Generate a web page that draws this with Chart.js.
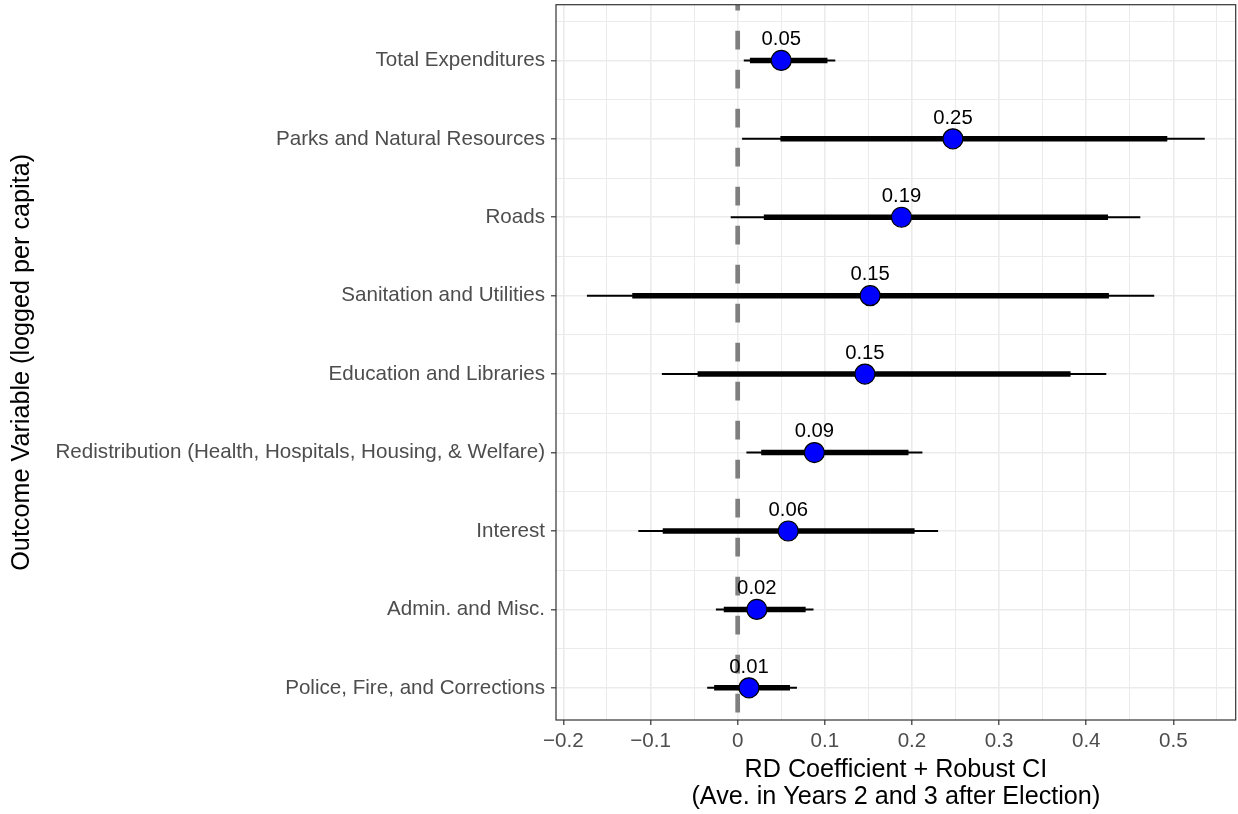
<!DOCTYPE html>
<html>
<head>
<meta charset="utf-8">
<script src="https://cdn.jsdelivr.net/npm/chart.js@4.4.1/dist/chart.umd.min.js"></script>
<style>
html,body{margin:0;padding:0;background:#ffffff;}
#wrap{width:1238px;height:814px;position:relative;}
</style>
</head>
<body>
<div id="wrap"><canvas id="c"></canvas></div>
<script>
// ---- data (top to bottom) ----
const categories = [
  "Total Expenditures",
  "Parks and Natural Resources",
  "Roads",
  "Sanitation and Utilities",
  "Education and Libraries",
  "Redistribution (Health, Hospitals, Housing, & Welfare)",
  "Interest",
  "Admin. and Misc.",
  "Police, Fire, and Corrections"
];
const estimates   = [0.050, 0.247, 0.188, 0.152, 0.146, 0.088, 0.058, 0.022, 0.013];
const ciOuterLow  = [0.007, 0.005, -0.008, -0.173, -0.087, 0.010, -0.114, -0.025, -0.035];
const ciOuterHigh = [0.112, 0.536, 0.462, 0.478, 0.423, 0.212, 0.230, 0.087, 0.068];
const ciInnerLow  = [0.014, 0.049, 0.030, -0.121, -0.046, 0.027, -0.086, -0.016, -0.027];
const ciInnerHigh = [0.103, 0.493, 0.425, 0.426, 0.382, 0.196, 0.203, 0.078, 0.060];

const xMajorTicks = [-0.2, -0.1, 0, 0.1, 0.2, 0.3, 0.4, 0.5];
const xMinorTicks = [-0.15, -0.05, 0.05, 0.15, 0.25, 0.35, 0.45, 0.55];
const xTickLabels = ["\u22120.2", "\u22120.1", "0", "0.1", "0.2", "0.3", "0.4", "0.5"];
const referenceLine = 0;
const xTitle = ["RD Coefficient + Robust CI", "(Ave. in Years 2 and 3 after Election)"];
const yTitle = "Outcome Variable (logged per capita)";

const FONT = '"Liberation Sans", Arial, Helvetica, sans-serif';
Chart.defaults.font.family = FONT;

const n = categories.length;
const yPos = i => n - 1 - i;
const isMajorX = v => xMajorTicks.some(m => Math.abs(m - v) < 1e-9);
const isMajorY = v => Math.abs(v - Math.round(v)) < 1e-9;

const datasets = [];
datasets.push({
  type: 'scatter',
  label: 'estimate',
  data: estimates.map((v, i) => ({x: v, y: yPos(i)})),
  pointRadius: 10,
  pointHoverRadius: 10,
  pointBackgroundColor: '#0000ff',
  pointBorderColor: '#000000',
  pointBorderWidth: 1.2,
  showLine: false,
  order: 0
});
categories.forEach((c, i) => {
  datasets.push({
    type: 'scatter', label: c + ' inner', showLine: true,
    data: [{x: ciInnerLow[i], y: yPos(i)}, {x: ciInnerHigh[i], y: yPos(i)}],
    borderColor: '#000000', borderWidth: 5.5, pointRadius: 0, pointHoverRadius: 0, order: 1
  });
  datasets.push({
    type: 'scatter', label: c + ' outer', showLine: true,
    data: [{x: ciOuterLow[i], y: yPos(i)}, {x: ciOuterHigh[i], y: yPos(i)}],
    borderColor: '#000000', borderWidth: 2, pointRadius: 0, pointHoverRadius: 0, order: 2
  });
});

const refLinePlugin = {
  id: 'refLine',
  beforeDatasetsDraw(chart) {
    const {ctx, chartArea} = chart;
    const x = chart.scales.x.getPixelForValue(referenceLine);
    ctx.save();
    ctx.beginPath();
    ctx.rect(chartArea.left, chartArea.top, chartArea.right - chartArea.left, chartArea.bottom - chartArea.top);
    ctx.clip();
    ctx.strokeStyle = '#7f7f7f';
    ctx.lineWidth = 4.7;
    ctx.setLineDash([18.8, 20.2]);
    ctx.lineDashOffset = 13;
    ctx.beginPath();
    ctx.moveTo(x, chartArea.top);
    ctx.lineTo(x, chartArea.bottom);
    ctx.stroke();
    ctx.restore();
  }
};

const labelPlugin = {
  id: 'valueLabels',
  afterDatasetsDraw(chart) {
    const {ctx} = chart;
    const meta = chart.getDatasetMeta(0);
    ctx.save();
    ctx.font = '20.3px ' + FONT;
    ctx.fillStyle = '#000000';
    ctx.textAlign = 'center';
    ctx.textBaseline = 'alphabetic';
    meta.data.forEach((pt, i) => {
      ctx.fillText(estimates[i].toFixed(2), pt.x, pt.y - 15.2);
    });
    ctx.restore();
  }
};

const borderPlugin = {
  id: 'panelBorder',
  afterDraw(chart) {
    const {ctx, chartArea} = chart;
    ctx.save();
    ctx.strokeStyle = '#333333';
    ctx.lineWidth = 1.2;
    ctx.strokeRect(chartArea.left, chartArea.top, chartArea.right - chartArea.left, chartArea.bottom - chartArea.top);
    ctx.restore();
  }
};

new Chart(document.getElementById('c'), {
  type: 'scatter',
  data: {datasets},
  plugins: [refLinePlugin, labelPlugin, borderPlugin],
  options: {
    responsive: true,
    maintainAspectRatio: false,
    animation: false,
    events: [],
    layout: {autoPadding: false, padding: {top: 4.7, right: 2.3, left: 0, bottom: 0}},
    plugins: {legend: {display: false}, tooltip: {enabled: false}},
    scales: {
      x: {
        type: 'linear',
        min: -0.2085,
        max: 0.5715,
        afterBuildTicks: s => { s.ticks = xMajorTicks.concat(xMinorTicks).sort((a, b) => a - b).map(v => ({value: v})); },
        afterFit: s => { s.height = 94; s.paddingLeft = 0; s.paddingRight = 0; s.paddingTop = 0; s.paddingBottom = 0; },
        border: {display: false},
        grid: {
          color: '#ebebeb',
          lineWidth: c => (c.tick && isMajorX(c.tick.value)) ? 1.6 : 1.0,
          tickColor: c => (c.tick && isMajorX(c.tick.value)) ? '#333333' : 'rgba(0,0,0,0)',
          tickLength: 5,
          tickWidth: 1.2
        },
        ticks: {
          autoSkip: false,
          maxRotation: 0,
          padding: 4,
          color: '#4d4d4d',
          font: {size: 20.6},
          callback: v => { const k = xMajorTicks.findIndex(m => Math.abs(m - v) < 1e-9); return k >= 0 ? xTickLabels[k] : ''; }
        },
        title: {
          display: true,
          text: xTitle,
          color: '#000000',
          font: {size: 25.2, lineHeight: 1.06},
          padding: {top: 0, bottom: 4}
        }
      },
      y: {
        type: 'linear',
        min: -0.41,
        max: 8.71,
        afterBuildTicks: s => {
          const t = [];
          for (let k = 0; k < n; k++) { t.push(k); t.push(k + 0.5); }
          s.ticks = t.sort((a, b) => a - b).map(v => ({value: v}));
        },
        afterFit: s => { s.width = 556; s.paddingLeft = 0; s.paddingRight = 0; s.paddingTop = 0; s.paddingBottom = 0; },
        border: {display: false},
        grid: {
          color: '#ebebeb',
          lineWidth: c => (c.tick && isMajorY(c.tick.value)) ? 1.6 : 1.0,
          tickColor: c => (c.tick && isMajorY(c.tick.value)) ? '#333333' : 'rgba(0,0,0,0)',
          tickLength: 5,
          tickWidth: 1.2
        },
        ticks: {
          autoSkip: false,
          padding: 6,
          color: '#4d4d4d',
          font: {size: 20.6},
          callback: v => isMajorY(v) ? categories[n - 1 - Math.round(v)] : ''
        },
        title: {
          display: true,
          text: yTitle,
          color: '#000000',
          font: {size: 25.2, lineHeight: 1.2},
          padding: {top: 7.4, bottom: 0}
        }
      }
    }
  }
});
</script>
</body>
</html>
